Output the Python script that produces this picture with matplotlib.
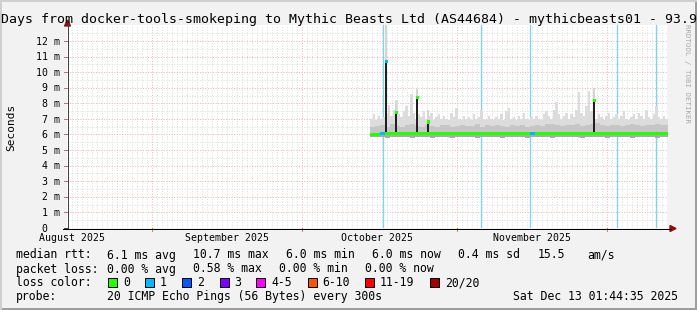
import numpy as np
import matplotlib
matplotlib.use("Agg")
import matplotlib.pyplot as plt
from matplotlib.transforms import ScaledTranslation
from matplotlib.patches import Rectangle, Polygon

plt.rcParams["font.family"] = ["DejaVu Sans Mono", "DejaVu Sans"]

# ------------------------------------------------------------------ data
TITLE = "Days from docker-tools-smokeping to Mythic Beasts Ltd (AS44684) - mythicbeasts01 - 93.9"
Y_TITLE = "Seconds"
WATERMARK = "RRDTOOL / TOBI OETIKER"

# time axis: days since 1 Aug 2025 00:00
X_START, X_END = 14.07, 134.07
Y_MAX = 13.0
y_major = list(range(1, 13))
y_minor = [v + 0.5 for v in range(0, 13)]
y_tick_vals = list(range(0, 13))
y_tick_text = ["0"] + [f"{v} m" for v in range(1, 13)]
month_names = ["August 2025", "September 2025", "October 2025", "November 2025"]
month_label_pos = [15.0, 46.0, 76.0, 107.0]
month_starts = [31, 61, 92, 122]
day_lines = list(range(15, 135))

# smoke upper envelope, half-day steps starting at SMOKE_T0
SMOKE_T0 = 74.7
smoke_hi = [
    7.0, 7.3, 6.9, 7.2, 7.0, 7.1, 7.4, 7.9, 7.2, 7.6,
    8.2, 7.3, 7.1, 7.5, 7.8, 7.2, 8.6, 7.4, 7.0, 7.3,
    7.1, 7.5, 7.0, 7.2, 7.4, 6.9, 7.1, 7.3, 7.0, 7.2,
    7.0, 6.9, 7.4, 7.1, 7.7, 7.0, 6.9, 7.2, 7.0, 7.1,
    6.9, 7.3, 7.0, 7.1, 7.6, 7.0, 6.9, 7.2, 7.0, 6.9,
    7.1, 7.0, 7.3, 6.9, 7.5, 7.7, 7.0, 7.1, 6.9, 7.2,
    7.0, 7.4, 7.0, 6.9, 7.1, 7.0, 7.2, 7.0, 6.9, 7.3,
    7.5, 7.2, 7.0, 7.6, 8.1, 7.3, 7.0, 7.2, 7.4, 7.0,
    7.3, 7.1, 7.6, 8.7, 7.4, 7.2, 7.8, 8.8, 7.5, 7.2,
    7.0, 7.3, 7.1, 6.9, 7.2, 7.4, 7.0, 7.1, 7.3, 7.0,
    7.2, 7.5, 7.0, 6.9, 7.1, 7.3, 7.0, 7.4, 7.2, 7.0,
    7.6, 7.1, 7.0, 7.3, 7.8, 7.1, 7.0, 7.2, 7.0,
]
# daily values starting at SMOKE_T0
day_lo = [
    5.85, 5.82, 5.84, 5.80, 5.83, 5.81, 5.84, 5.82, 5.80, 5.83,
    5.81, 5.84, 5.80, 5.82, 5.83, 5.81, 5.80, 5.84, 5.82, 5.81,
    5.83, 5.80, 5.82, 5.84, 5.81, 5.83, 5.80, 5.82, 5.81, 5.83,
    5.82, 5.80, 5.84, 5.81, 5.83, 5.82, 5.80, 5.83, 5.81, 5.82,
    5.84, 5.81, 5.80, 5.83, 5.82, 5.81, 5.84, 5.80, 5.82, 5.83,
    5.81, 5.82, 5.80, 5.83, 5.84, 5.81, 5.82, 5.80, 5.83, 5.82,
]
day_mid = [
    6.45, 6.55, 6.60, 6.50, 6.65, 6.55, 6.50, 6.60, 6.70, 6.55,
    6.50, 6.60, 6.55, 6.50, 6.62, 6.58, 6.50, 6.55, 6.60, 6.52,
    6.55, 6.65, 6.50, 6.58, 6.55, 6.60, 6.52, 6.50, 6.62, 6.55,
    6.58, 6.50, 6.55, 6.60, 6.52, 6.65, 6.70, 6.60, 6.55, 6.62,
    6.58, 6.65, 6.55, 6.60, 6.68, 6.72, 6.60, 6.55, 6.62, 6.58,
    6.55, 6.60, 6.65, 6.58, 6.55, 6.62, 6.60, 6.68, 6.58, 6.60,
]
day_median = [
    5.98, 6.02, 6.05, 6.08, 6.06, 6.05, 6.07, 6.05, 6.04, 6.06,
    6.05, 6.07, 6.04, 6.05, 6.06, 6.05, 6.04, 6.06, 6.05, 6.07,
    6.05, 6.04, 6.06, 6.05, 6.07, 6.05, 6.04, 6.05, 6.06, 6.05,
    6.04, 6.06, 6.08, 6.05, 6.04, 6.06, 6.05, 6.07, 6.05, 6.06,
    6.08, 6.06, 6.05, 6.07, 6.06, 6.05, 6.07, 6.06, 6.05, 6.06,
    6.04, 6.06, 6.05, 6.07, 6.05, 6.04, 6.06, 6.05, 6.04, 6.06,
]
day_loss = [0] * 2 + [1] + [0] * 29 + [1] + [0] * 27

# short median spikes
spike_t = [77.9, 79.9, 84.1, 86.3, 119.5]
spike_median = [10.7, 7.4, 8.4, 6.8, 8.2]
spike_smoke = [13.5, 8.0, 8.9, 7.6, 9.0]
spike_loss = [1, 0, 0, 0, 0]

# full-height loss markers
loss_marks = [77.3, 96.9, 106.7, 124.1, 131.9]

stats_rtt = ["6.1 ms avg", "10.7 ms max", "6.0 ms min", "6.0 ms now", "0.4 ms sd", "15.5", "am/s"]
stats_loss = ["0.00 % avg", "0.58 % max", "0.00 % min", "0.00 % now"]
loss_levels = ["0", "1", "2", "3", "4-5", "6-10", "11-19", "20/20"]
loss_colors = ["#26ff00", "#00b8ff", "#0059ff", "#7e00ff", "#ff00ff", "#ff5500", "#ff0000", "#a10000"]
probe_text = "20 ICMP Echo Pings (56 Bytes) every 300s"
stamp_text = "Sat Dec 13 01:44:35 2025"

# ------------------------------------------------------------------ figure
W, H = 697, 310
fig = plt.figure(figsize=(W / 100, H / 100), dpi=100)
fig.patch.set_facecolor("#f2f2f2")

AX_L, AX_R, AX_B, AX_T = 67, 667, 228, 25.4
ax = fig.add_axes([AX_L / W, (H - AX_B) / H, (AX_R - AX_L) / W, (AX_B - AX_T) / H])
ax.set_facecolor("white")
ax.set_xlim(X_START, X_END)
ax.set_ylim(0, Y_MAX)
for s in ax.spines.values():
    s.set_visible(False)
ax.set_xticks([])
ax.set_yticks([])

PX = 0.72  # one pixel in points
GRID = "#dedede"
MGRID = "#eeb4b4"
DOT = (0, (1, 1.6))

for d in day_lines:
    if d in month_starts:
        continue
    ax.axvline(d, color=GRID, lw=PX, ls=DOT, zorder=1)
for v in y_minor:
    ax.axhline(v, color=GRID, lw=PX, ls=DOT, zorder=1)
for v in y_major:
    ax.axhline(v, color=MGRID, lw=PX, ls=DOT, zorder=1)
for d in month_starts:
    ax.axvline(d, color=MGRID, lw=PX, ls=DOT, zorder=1)

# loss marker lines
for d in loss_marks:
    ax.axvline(d, color="#7fd3f5", lw=1.3 * PX, zorder=2)

# smoke
t_half = SMOKE_T0 + 0.5 * np.arange(len(smoke_hi) + 1)
hi = np.array(smoke_hi + [smoke_hi[-1]])
t_day = SMOKE_T0 + np.arange(len(day_lo) + 1)
lo = np.array(day_lo + [day_lo[-1]])
mid = np.array(day_mid + [day_mid[-1]])
med = np.array(day_median + [day_median[-1]])
lo_half = np.interp(t_half, t_day, lo)
ax.fill_between(t_half, lo_half, hi, step="post", color="#dcdcdc", lw=0, zorder=3)
ax.fill_between(t_day, lo, mid, step="post", color="#c6c6c6", lw=0, zorder=3)
ax.fill_between(t_day, lo, med + 0.1, step="post", color="#aaaaaa", lw=0, zorder=3)

# spikes: smoke
for t, s in zip(spike_t, spike_smoke):
    ax.bar(t, s - 6.0, bottom=6.0, width=0.4, color="#d4d4d4", lw=0, zorder=3)

# median line
ax.step(t_day, med, where="post", color="#202020", lw=PX, zorder=4)
base = np.interp(spike_t, t_day, med)
ax.vlines(spike_t, base, spike_median, color="#202020", lw=2 * PX, zorder=4)

# loss-coloured median band
SW = 0.1
for i in range(len(day_median)):
    c = loss_colors[day_loss[i]]
    ax.fill_between([t_day[i], t_day[i + 1]], day_median[i] - SW, day_median[i] + SW,
                    color=c, lw=0, zorder=5)
for t, m, l in zip(spike_t, spike_median, spike_loss):
    ax.fill_between([t - 0.2, t + 0.3], m - SW, m + SW, color=loss_colors[l], lw=0, zorder=5)

# ------------------------------------------------------------------ axes lines & arrows
def fx(x):
    return x / W

def fy(y):
    return 1 - y / H

fig.add_artist(plt.Line2D([fx(67.5), fx(67.5)], [fy(228), fy(24)], color="#404040", lw=PX))
fig.add_artist(plt.Line2D([fx(63), fx(671)], [fy(228.5), fy(228.5)], color="#000000", lw=PX))
fig.add_artist(Polygon([[fx(64.5), fy(26)], [fx(70.5), fy(26)], [fx(67.5), fy(20)]],
                       closed=True, color="#8b1010", transform=fig.transFigure))
fig.add_artist(Polygon([[fx(670), fy(225.5)], [fx(670), fy(231.5)], [fx(676), fy(228.5)]],
                       closed=True, color="#8b1010", transform=fig.transFigure))

# y tick marks and labels
AXFS = 7.1
cw_ax = 0.602 * AXFS * 100 / 72
for v, lab in zip(y_tick_vals, y_tick_text):
    ax.plot([X_START - 0.7, X_START], [v, v], color="#c07070" if v else "#404040",
            lw=PX, clip_on=False, zorder=6)
    dx = -7.5 if v else -7.5 - 2 * cw_ax
    tr = ax.get_yaxis_transform() + ScaledTranslation(dx / 100, -3.6 / 100, fig.dpi_scale_trans)
    ax.text(0, v, lab, transform=tr, ha="right", va="baseline", fontsize=AXFS, color="#000000")

# x month ticks and labels
for d in month_starts:
    ax.plot([d, d], [0, -0.2], color="#d08080", lw=PX, clip_on=False, zorder=6)
for d, lab in zip(month_label_pos, month_names):
    tr = ax.get_xaxis_transform() + ScaledTranslation(0, -(241.3 - 228) / 100, fig.dpi_scale_trans)
    ax.text(d, 0, lab, transform=tr, ha="center", va="baseline", fontsize=AXFS)

# titles
fig.text(fx(1), fy(23.3), TITLE, ha="left", va="baseline", fontsize=9.5)
fig.text(fx(11.7), fy(127), Y_TITLE, rotation=90, ha="center", va="center", fontsize=8)
fig.text(fx(687), fy(24), WATERMARK, rotation=-90, ha="center", va="top",
         fontsize=5.4, color="#a9a9a9")

# ------------------------------------------------------------------ legend
LFS = 8.3
def lt(x, y, s, **kw):
    fig.text(fx(x), fy(y), s, ha="left", va="baseline", fontsize=LFS, **kw)

lt(16, 258.5, "median rtt:")
for x, s in zip([107, 193, 286, 372, 458, 538, 587], stats_rtt):
    lt(x, 258.5, s)
lt(16, 272.5, "packet loss:")
for x, s in zip([107, 193, 279, 365], stats_loss):
    lt(x, 272.5, s)
lt(16, 286.5, "loss color:")
box_x = [108, 145, 182, 219.6, 256.4, 307.6, 365, 430]
for x, lab, c in zip(box_x, loss_levels, loss_colors):
    fig.add_artist(Rectangle((fx(x), fy(286.5)), 9 / W, 9 / H, transform=fig.transFigure,
                             facecolor=c, edgecolor="#000000", lw=PX))
    lt(x + 15, 286.5, lab)
lt(16, 300.2, "probe:")
lt(107, 300.2, probe_text)
lt(513, 300.2, stamp_text)

# frame
fig.add_artist(Rectangle((0, 0), 1, 2 / H, transform=fig.transFigure, color="#9e9e9e", lw=0))
fig.add_artist(Rectangle((1 - 2 / W, 0), 2 / W, 1, transform=fig.transFigure, color="#9e9e9e", lw=0))
fig.add_artist(Rectangle((0, 1 - 2 / H), 1, 2 / H, transform=fig.transFigure, color="#cfcfcf", lw=0))
fig.add_artist(Rectangle((0, 0), 2 / W, 1, transform=fig.transFigure, color="#cfcfcf", lw=0))

fig.savefig("out.png", dpi=100, facecolor=fig.get_facecolor())
